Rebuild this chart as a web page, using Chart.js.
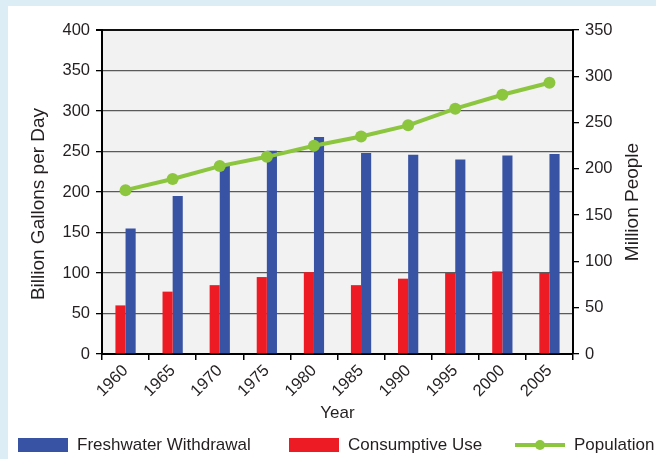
<!DOCTYPE html>
<html><head><meta charset="utf-8">
<script src="https://cdn.jsdelivr.net/npm/chart.js@4.4.0/dist/chart.umd.min.js"></script>
<style>
html,body{margin:0;padding:0;}
body{width:656px;height:459px;background:#dcedf6;position:relative;overflow:hidden;font-family:"Liberation Sans",Arial,sans-serif;}
#panel{position:absolute;left:8px;top:6px;right:0;bottom:0;background:#fff;}
#wrap{position:absolute;left:0;top:0;width:656px;height:459px;}
#legend{position:absolute;left:0;top:432px;width:656px;height:26px;font-size:17px;color:#231f20;font-family:"Liberation Sans",Arial,sans-serif;}
.item{position:absolute;top:0;height:26px;display:flex;align-items:center;white-space:nowrap;}
.sw{display:inline-block;width:50px;height:14px;margin-right:9px;}
.ln{position:relative;display:inline-block;width:50px;height:14px;margin-right:9px;}
.ln:before{content:"";position:absolute;left:0;right:0;top:5px;height:4px;background:#8cc63f;}
.ln:after{content:"";position:absolute;left:20px;top:2px;width:10px;height:10px;border-radius:50%;background:#8cc63f;}
</style></head>
<body>
<div id="panel"></div>
<div id="wrap"><canvas id="c" width="656" height="459"></canvas></div>
<div id="legend">
  <div class="item" style="left:18px"><span class="sw" style="background:#3953a4"></span>Freshwater Withdrawal</div>
  <div class="item" style="left:289px"><span class="sw" style="background:#ed1c24"></span>Consumptive Use</div>
  <div class="item" style="left:515px"><span class="ln"></span>Population</div>
</div>
<script>
const years = ['1960','1965','1970','1975','1980','1985','1990','1995','2000','2005'];
const freshwater = [155,195,233,251,268,248,246,240,245,247];
const consumptive = [60,77,85,95,101,85,93,100,102,100];
const population = [177,189,203,213,225,235,247,265,280,293];
const leftMax = 400, rightMax = 350, tickStep = 50;
const leftTitle = 'Billion Gallons per Day';
const rightTitle = 'Million People';

const tickFont = {family:'"Liberation Sans",Arial,sans-serif', size:16.5};
const titleFontCss = '19px "Liberation Sans", Arial, sans-serif';
const txt = '#231f20';

const plotBg = {
  id:'plotBg',
  beforeDraw(chart){
    const a = chart.chartArea, ctx = chart.ctx;
    ctx.save(); ctx.fillStyle = '#f2f2f2';
    ctx.fillRect(a.left, a.top, a.right-a.left, a.bottom-a.top);
    ctx.restore();
  },
  afterDraw(chart){
    const ctx = chart.ctx, a = chart.chartArea;
    const cy = (a.top + a.bottom)/2 + 12;
    ctx.save();
    ctx.font = titleFontCss; ctx.fillStyle = txt;
    ctx.textAlign = 'center'; ctx.textBaseline = 'middle';
    ctx.translate(chart.scales.y.left + 15, cy);
    ctx.rotate(-Math.PI/2);
    ctx.fillText(leftTitle, 0, 0);
    ctx.restore();
    ctx.save();
    ctx.font = titleFontCss; ctx.fillStyle = txt;
    ctx.textAlign = 'center'; ctx.textBaseline = 'middle';
    ctx.translate(chart.scales.y1.right - 16, cy - 2);
    ctx.rotate(-Math.PI/2);
    ctx.fillText(rightTitle, 0, 0);
    ctx.restore();
  }
};

new Chart(document.getElementById('c'), {
  data: {
    labels: years,
    datasets: [
      {type:'bar', label:'Consumptive Use', data:consumptive, backgroundColor:'#ed1c24', yAxisID:'y', order:1,
       barPercentage:1.0, categoryPercentage:0.43},
      {type:'bar', label:'Freshwater Withdrawal', data:freshwater, backgroundColor:'#3953a4', yAxisID:'y', order:1,
       barPercentage:1.0, categoryPercentage:0.43},
      {type:'line', label:'Population', data:population, borderColor:'#8cc63f', backgroundColor:'#8cc63f',
       borderWidth:4, pointRadius:6, pointBackgroundColor:'#8cc63f', pointBorderWidth:0, yAxisID:'y1', order:0, tension:0}
    ]
  },
  options: {
    responsive:false, animation:false, devicePixelRatio:1,
    layout:{padding:{left:24, right:7, top:30, bottom:35}},
    plugins:{legend:{display:false}, tooltip:{enabled:false}},
    scales:{
      x:{
        offset:true,
        grid:{offset:true, drawOnChartArea:false, drawTicks:true, tickLength:6, color:'#000', lineWidth:1.5},
        border:{color:'#000', width:2},
        ticks:{minRotation:45, maxRotation:45, font:tickFont, color:txt, padding:1},
        title:{display:true, text:'Year', font:{family:'"Liberation Sans",Arial,sans-serif', size:17}, color:txt, padding:{top:0,bottom:0}},
        afterFit(s){ s.height = 70; }
      },
      y:{
        position:'left', min:0, max:leftMax,
        ticks:{stepSize:tickStep, font:tickFont, color:txt, padding:6},
        grid:{color:(c)=> c.tick && c.tick.value===leftMax ? '#111' : '#5a5a5a',
              lineWidth:(c)=> c.tick && c.tick.value===leftMax ? 2 : 1.3,
              tickColor:'#000', tickLength:6},
        border:{color:'#000', width:2},
        title:{display:false},
        afterFit(s){ s.width = 78; }
      },
      y1:{
        position:'right', min:0, max:rightMax,
        ticks:{stepSize:tickStep, font:tickFont, color:txt, padding:6},
        grid:{drawOnChartArea:false, tickColor:'#000', tickLength:6, lineWidth:1.3},
        border:{color:'#000', width:2},
        title:{display:false},
        afterFit(s){ s.width = 76; }
      }
    }
  },
  plugins:[plotBg]
});
</script>
</body></html>
